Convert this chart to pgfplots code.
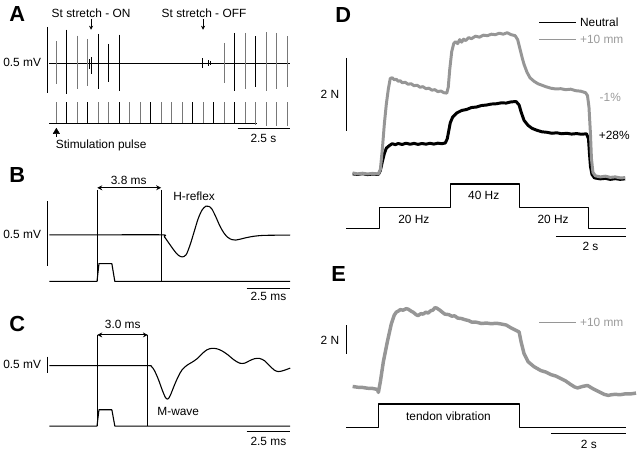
\documentclass[border=0pt]{standalone}
\usepackage{fontspec}
\setmainfont{Liberation Sans}
\usepackage{pgfplots}
\pgfplotsset{compat=1.18}
\usetikzlibrary{arrows.meta}
\definecolor{tracegray}{RGB}{150,150,150}
\definecolor{spikegray}{RGB}{120,120,120}
\definecolor{labelgray}{RGB}{155,155,155}
\newcommand{\txt}{\fontsize{12}{14}\selectfont}
\newcommand{\panelfont}{\fontsize{22}{24}\selectfont\bfseries}

\begin{document}
\begin{tikzpicture}
\begin{axis}[
    width=640pt, height=452pt, scale only axis,
    xmin=0, xmax=640, ymin=0, ymax=452, y dir=reverse,
    axis lines=none, clip=false,
    unbounded coords=jump,
    every axis plot/.append style={line join=round, line cap=butt},
]
% frame for the page size
\addplot[draw=none] coordinates {(0,0) (640,452)};

% ---------------- Panel A ----------------
% EMG baseline
\addplot[black, line width=1.8pt] coordinates {(44,64) (287,64)};
% gray spikes
\addplot[spikegray, line width=1.1pt] coordinates {
 (51,41.7) (51,85) (51,nan)
 (72.2,36) (72.2,90) (72.2,nan)
 (82.8,39.3) (82.8,86.7) (82.8,nan)
 (220.6,43.3) (220.6,83.3) (220.6,nan)
 (241.8,33.3) (241.8,90) (241.8,nan)
 (263,32.3) (263,91.7) (263,nan)
 (273.6,33.3) (273.6,90) (273.6,nan)
 (284.2,36.7) (284.2,88.3)
};
% black spikes
\addplot[black, line width=1.1pt] coordinates {
 (61.6,30) (61.6,95) (61.6,nan)
 (93.4,34.3) (93.4,90) (93.4,nan)
 (104,44.3) (104,82.7) (104,nan)
 (114.6,35) (114.6,91.7) (114.6,nan)
 (231.2,33.3) (231.2,91.7) (231.2,nan)
 (252.4,36.7) (252.4,88.3) (252.4,nan)
 (86,58) (86,75) (86,nan)
 (84.5,60) (84.5,70) (84.5,nan)
 (198.5,59) (198.5,69) (198.5,nan)
 (204.5,61) (204.5,67) (204.5,nan)
 (206.5,62) (206.5,66)
};
% stimulation pulses
\addplot[black, line width=1pt] coordinates {(44,124.3) (253,124.3)};
\addplot[spikegray, line width=1pt] coordinates {
 (51,103.3) (51,124.3) (51,nan)
 (72.2,103.3) (72.2,124.3) (72.2,nan)
 (93.4,103.3) (93.4,124.3) (93.4,nan)
 (104,103.3) (104,124.3) (104,nan)
 (125.2,103.3) (125.2,124.3) (125.2,nan)
 (135.8,103.3) (135.8,124.3) (135.8,nan)
 (157,103.3) (157,124.3) (157,nan)
 (167.6,103.3) (167.6,124.3) (167.6,nan)
 (178.2,103.3) (178.2,124.3) (178.2,nan)
 (199.4,103.3) (199.4,124.3) (199.4,nan)
 (220.6,103.3) (220.6,124.3) (220.6,nan)
 (241.8,103.3) (241.8,124.3) (241.8,nan)
 (252.4,103.3) (252.4,126) (252.4,nan)
 (263,103.3) (263,127) (263,nan)
 (273.6,103.3) (273.6,127) (273.6,nan)
 (284.2,103.3) (284.2,127)
};
\addplot[black, line width=1pt] coordinates {
 (61.6,103.3) (61.6,124.3) (61.6,nan)
 (82.8,103.3) (82.8,124.3) (82.8,nan)
 (114.6,103.3) (114.6,124.3) (114.6,nan)
 (146.4,103.3) (146.4,124.3) (146.4,nan)
 (188.8,103.3) (188.8,124.3) (188.8,nan)
 (210,103.3) (210,124.3) (210,nan)
 (231.2,103.3) (231.2,124.3)
};
% scale bars A
\addplot[black, line width=1pt] coordinates {(42,27) (42,94)};
\addplot[black, line width=1pt] coordinates {(234,129.3) (287,129.3)};

\node[anchor=west] at (axis cs:0,14) {\panelfont A};
\node at (axis cs:86,13) {\txt St stretch - ON};
\node at (axis cs:200,13) {\txt St stretch - OFF};
\draw[-{Stealth[length=4pt,width=4pt]}] (axis cs:86,19) -- (axis cs:86,30);
\draw[-{Stealth[length=4pt,width=4pt]}] (axis cs:199,19) -- (axis cs:199,30);
\node[anchor=east] at (axis cs:39,63) {\txt 0.5 mV};
\draw[-{Triangle[length=6pt,width=7pt]}] (axis cs:51,138) -- (axis cs:51,129);
\node[anchor=west] at (axis cs:47,147) {\txt Stimulation pulse};
\node at (axis cs:260,140) {\txt 2.5 s};

% ---------------- Panel B ----------------
\addplot[black, line width=1.1pt, smooth] coordinates {
 (44,237) (100,237) (157,237) (160,239) (165,246) (170,253) (174,257.5)
 (178,259.3) (182,257) (186,247) (190,234) (194,221) (198,212) (202,208)
 (205,208.3) (208,211) (212,219) (216,228) (220,235) (224,239.5)
 (228,241.8) (232,242.3) (236,241.5) (242,240) (248,238.8) (254,238)
 (262,237.5) (287,237.2)
};
\addplot[black, line width=1.1pt] coordinates {
 (44,284) (92,284) (94,266) (107,266) (110,284) (287,284)
};
\addplot[black, line width=1.1pt] coordinates {(92.3,191.5) (92.3,284) (92.3,nan) (156.7,191.5) (156.7,284)};
\addplot[black, line width=1pt] coordinates {(42,203) (42,268.5)};
\addplot[black, line width=1pt] coordinates {(243,291) (287,291)};
\draw[{Stealth[length=5pt,width=5pt]}-{Stealth[length=5pt,width=5pt]}, line width=0.9pt]
  (axis cs:92.3,189.5) -- (axis cs:156.7,189.5);
\node[anchor=west] at (axis cs:0,177) {\panelfont B};
\node at (axis cs:124,182) {\txt 3.8 ms};
\node at (axis cs:190,198) {\txt H-reflex};
\node[anchor=east] at (axis cs:39,237) {\txt 0.5 mV};
\node at (axis cs:265,299.5) {\txt 2.5 ms};

% ---------------- Panel C ----------------
\addplot[black, line width=1.1pt, smooth] coordinates {
 (44,369) (100,369) (143,369) (147,370) (150,374) (154,383) (158,394) (161,401)
 (163.5,402.7) (166,399) (170,389) (174,380) (178,373) (183,368.5)
 (188,365.5) (193,362) (198,357) (203,353) (208,351.5) (213,352)
 (218,354) (224,358) (230,363) (236,366.5) (241,366.5) (246,364)
 (251,362) (256,361.7) (261,364) (266,369) (271,373.5) (275,375)
 (280,374) (287,371.5)
};
\addplot[black, line width=1.1pt] coordinates {
 (44,430) (92,430) (94,413.5) (107,413.5) (110,430) (287,430)
};
\addplot[black, line width=1.1pt] coordinates {(92.3,338) (92.3,430) (92.3,nan) (143.3,338) (143.3,430)};
\addplot[black, line width=1pt] coordinates {(42,360) (42,376)};
\addplot[black, line width=1pt] coordinates {(243,435.7) (287,435.7)};
\draw[{Stealth[length=5pt,width=5pt]}-{Stealth[length=5pt,width=5pt]}, line width=0.9pt]
  (axis cs:92.3,338) -- (axis cs:143.3,338);
\node[anchor=west] at (axis cs:0,327) {\panelfont C};
\node at (axis cs:118,327.5) {\txt 3.0 ms};
\node at (axis cs:174,415) {\txt M-wave};
\node[anchor=east] at (axis cs:39,368) {\txt 0.5 mV};
\node at (axis cs:265,445.5) {\txt 2.5 ms};

% ---------------- Panel D ----------------
% neutral
\addplot[black, line width=3pt] coordinates {
 (350,175.5) (355,176) (360,175.3) (365,176.2) (370,175.7) (376,176) (378,172)
 (380,163) (382,155) (384,149.5) (387,147) (390,145) (393,146) (396,144.8)
 (400,145.8) (404,144.5) (408,145.6) (412,144.7) (416,145.7) (420,144.8)
 (424,145.5) (428,144.6) (432,145.4) (436,144.5) (440,145) (443.5,144.3)
 (445.5,140) (447,132) (448.5,124) (451,118) (455,114) (460,111.5)
 (465,110.5) (470,108.5) (475,108) (480,106.5) (485,106) (490,105)
 (495,104.7) (500,103.8) (505,104) (510,102.8) (515,102.5) (518,106)
 (520,113) (523,121.5) (527,126.5) (531,129.5) (536,131.5) (541,133)
 (546,133.5) (551,134.5) (556,134) (561,135) (566,134.5) (571,135.3)
 (576,134.8) (581,135.5) (586,135) (588,140) (589,155) (590,168)
 (591.5,176) (594,179.5) (600,180.5) (605,180) (610,181) (615,180.3)
 (620,181) (625,180.5)
};
% +10 mm
\addplot[tracegray, line width=3pt] coordinates {
 (350,174.5) (355,175.5) (360,174.8) (365,175.6) (370,175) (376,175.5)
 (378,171) (380,150) (382,125) (384,105) (386,90) (388,79) (390,78.5)
 (392,80.5) (394,80) (396,82) (398,81.5) (400,83.5) (403,83) (406,85)
 (409,84.5) (412,86.5) (415,86) (418,88) (421,87.5) (424,89.5) (427,89)
 (430,91) (433,90.5) (436,92.5) (439,91.8) (442,93.5) (445,94) (446.5,88)
 (448,70) (450,52) (452,44) (454,42) (456,44) (458,40) (460,42.5)
 (462,39.5) (464,41) (467,38) (470,39) (474,36.5) (478,37.5) (482,35.5)
 (486,36) (490,34.5) (494,35) (498,33.5) (502,34.5) (506,33) (510,35)
 (514,36) (516.5,40) (519,50) (521,58) (523,65) (526,73) (529,78.5)
 (533,82) (537,84.5) (541,86) (545,87.5) (550,89) (555,89.8) (560,89.5)
 (565,90.5) (570,90) (575,91.5) (580,92) (585,93.5) (587,96.5)
 (588.5,108) (590,135) (591,160) (592.5,174) (595,177.5) (600,178.5)
 (605,177.8) (610,179) (615,178.5) (620,179.5) (625,179.3)
};
% stimulation frequency steps
\addplot[black, line width=1.1pt] coordinates {
 (343.3,230.7) (377.3,230.7) (377.3,209) (448.3,209) (448.3,185.7)
 (518.3,185.7) (518.3,209) (588.3,209) (588.3,230.7) (626,230.7)
};
\addplot[black, line width=1pt] coordinates {(344,58.3) (344,131.7)};
\addplot[black, line width=1pt] coordinates {(555,239) (626,239)};
% legend
\addplot[black, line width=1pt] coordinates {(538.3,22.7) (575,22.7)};
\addplot[tracegray, line width=1pt] coordinates {(538.3,40) (575,40)};
\node[anchor=west] at (axis cs:329,15) {\panelfont D};
\node[anchor=west] at (axis cs:576,22.7) {\txt Neutral};
\node[anchor=west, labelgray] at (axis cs:576,40) {\txt +10 mm};
\node[anchor=east] at (axis cs:340,95) {\txt 2 N};
\node[labelgray] at (axis cs:610,98) {\txt -1\%};
\node at (axis cs:614,137) {\txt +28\%};
\node at (axis cs:411.7,221) {\txt 20 Hz};
\node at (axis cs:482.3,197.7) {\txt 40 Hz};
\node at (axis cs:552.3,221) {\txt 20 Hz};
\node at (axis cs:590,248.5) {\txt 2 s};

% ---------------- Panel E ----------------
\addplot[tracegray, line width=3.5pt] coordinates {
 (350,390) (355,390.8) (360,391) (365,391.8) (370,392) (375,393) (376,396)
 (378,385) (381,365) (385,345) (389,327) (392,318) (394,315) (396,314)
 (398,312.5) (401,313) (404,311.5) (406,312) (409,314) (411,315)
 (414,317.5) (416,318.5) (419,316.5) (421,317) (424,315) (426,316)
 (429,313.5) (431,313) (433,310.5) (435,311) (438,313) (441,315.5)
 (443,317) (447,317.5) (450,319) (453,318.8) (456,321) (460,321.5)
 (463,322.5) (467,323.5) (470,325) (475,325.2) (480,326.5) (485,326)
 (490,326.7) (495,326.2) (500,327) (505,328) (510,331) (515,333.5)
 (518,335) (520,345) (523,357) (527,365) (533,370) (540,374) (545,375.5)
 (550,378) (555,379.5) (560,382) (565,384.5) (570,388) (574,390.5)
 (577,391.5) (582,390) (587,389) (592,392) (598,395) (604,398)
 (608,399) (612,398.2) (615,398) (620,398.3) (625,397.5) (630,397.6)
 (636,396.7)
};
\addplot[black, line width=1.1pt] coordinates {
 (343.3,431) (375.7,431) (375.7,407.7) (518.3,407.7) (518.3,431) (625.7,431)
};
\addplot[black, line width=1pt] coordinates {(343.3,328.3) (343.3,357.3)};
\addplot[black, line width=1pt] coordinates {(550,437.3) (626,437.3)};
\addplot[tracegray, line width=1pt] coordinates {(538.3,325.7) (575,325.7)};
\node[anchor=west] at (axis cs:325,277) {\panelfont E};
\node[anchor=west, labelgray] at (axis cs:576,325.7) {\txt +10 mm};
\node[anchor=east] at (axis cs:340,343) {\txt 2 N};
\node at (axis cs:446.7,420) {\txt tendon vibration};
\node at (axis cs:588.3,448) {\txt 2 s};
\end{axis}
\end{tikzpicture}
\end{document}
